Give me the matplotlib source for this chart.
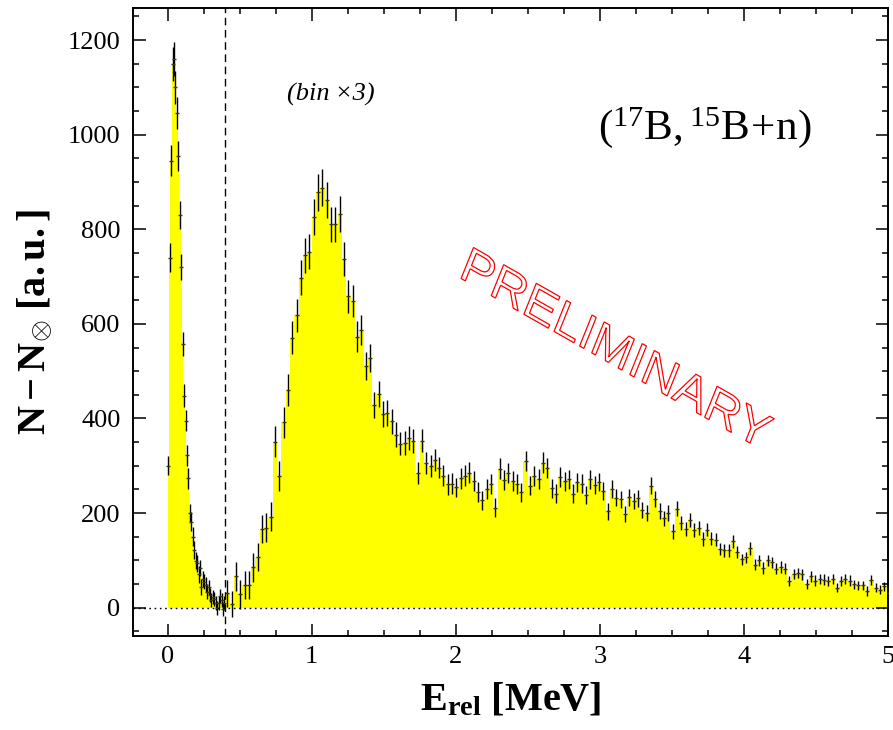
import numpy as np
import matplotlib
matplotlib.use('Agg')
import matplotlib.pyplot as plt
from matplotlib.textpath import TextPath
from matplotlib.patches import PathPatch
from matplotlib.font_manager import FontProperties
from matplotlib.transforms import Affine2D
from matplotlib.ticker import MultipleLocator

# ---------------- data ----------------
fine_vals = [300, 740, 945, 1150, 1160, 1100, 1045, 955, 830, 720,
             557, 448, 395, 322, 273, 200, 182, 150, 122, 99,
             94, 71, 83, 44, 60, 55, 48, 34, 43, 26,
             16, 23, 18, 9, -1, 10, 25, 16, -3, 10]
fine_errs = [20, 30, 33, 36, 36, 35, 34, 32, 30, 28,
             26, 24, 22, 22, 22, 20, 20, 20, 19, 18,
             18, 18, 17, 17, 17, 16, 16, 16, 16, 15,
             15, 15, 15, 15, 15, 15, 15, 15, 15, 15]
coarse_vals = [30, 8, 66, 28, 48, 48, 85, 107, 166, 169, 192,
               351, 278, 392, 460, 571, 618, 698, 745, 753, 825,
               878, 888, 862, 811, 811, 833, 738, 658, 648, 573,
               587, 511, 528, 428, 452, 409, 412, 394, 366, 347,
               348, 359, 352, 284, 353, 306, 300, 312, 296, 279,
               261, 262, 254, 273, 279, 285, 267, 244, 227, 250,
               262, 211, 294, 269, 285, 267, 262, 244, 310, 258,
               279, 272, 306, 296, 252, 241, 276, 267, 271, 241,
               265, 262, 239, 271, 260, 266, 246, 204, 250, 232,
               229, 197, 233, 225, 231, 206, 200, 258, 229, 205,
               189, 200, 161, 209, 179, 167, 186, 164, 169, 145,
               165, 146, 144, 124, 121, 121, 140, 118, 102, 106,
               125, 91, 100, 84, 100, 96, 82, 86, 82, 56,
               71, 73, 70, 50, 66, 57, 61, 59, 56, 61,
               42, 56, 61, 57, 49, 47, 47, 35, 58, 42,
               38, 45, 31]
coarse_errs = [28, 28, 30, 30, 30, 30, 30, 30, 30, 30, 31,
               33, 32, 33, 34, 35, 35, 36, 37, 37, 38,
               39, 39, 38, 37, 37, 38, 36, 34, 34, 32,
               32, 30, 30, 28, 28, 27, 27, 26, 26, 25,
               25, 25, 25, 23, 25, 24, 23, 23, 23, 22,
               22, 22, 21, 22, 22, 22, 21, 21, 20, 21,
               21, 20, 22, 21, 21, 21, 21, 20, 22, 20,
               21, 21, 22, 21, 20, 20, 21, 20, 20, 20,
               20, 20, 19, 20, 19, 19, 19, 18, 19, 18,
               18, 17, 18, 17, 18, 17, 17, 18, 17, 17,
               16, 16, 15, 16, 15, 15, 15, 15, 15, 14,
               14, 14, 14, 13, 13, 13, 13, 13, 12, 12,
               13, 12, 12, 12, 12, 12, 12, 12, 12, 11,
               11, 11, 11, 11, 11, 11, 11, 11, 11, 11,
               10, 11, 11, 11, 10, 10, 10, 10, 11, 10,
               10, 10, 10]
fine_start = 0.0
fine_width = 0.01
split_energy = 0.40
coarse_width = 0.03

x_ticks = [0, 1, 2, 3, 4, 5]
y_ticks = [0, 200, 400, 600, 800, 1000, 1200]

# ---------------- style ----------------
plt.rcParams['font.family'] = ['Liberation Serif', 'DejaVu Serif']
plt.rcParams['mathtext.fontset'] = 'custom'
plt.rcParams['mathtext.rm'] = 'Liberation Serif'
plt.rcParams['mathtext.it'] = 'Liberation Serif:italic'
plt.rcParams['mathtext.bf'] = 'Liberation Serif:bold'

fine_edges = fine_start + fine_width * np.arange(len(fine_vals) + 1)
coarse_edges = split_energy + coarse_width * np.arange(len(coarse_vals) + 1)
edges = np.concatenate([fine_edges, coarse_edges[1:]])
vals = np.array(fine_vals + coarse_vals, dtype=float)
errs = np.array(fine_errs + coarse_errs, dtype=float)
centers = 0.5 * (edges[:-1] + edges[1:])

fig = plt.figure(figsize=(8.93, 7.30), dpi=100)
ax = fig.add_axes([0.1489, 0.1288, 0.8455, 0.8603])
ax.set_xlim(-0.24, 5.0)
ax.set_ylim(-60, 1268)

ax.stairs(vals, edges, fill=True, color='#ffff00', baseline=0, zorder=1)
ax.errorbar(centers, vals, yerr=errs, fmt='none', ecolor='black',
            elinewidth=1.0, capsize=0, zorder=3)
ax.plot(centers, vals, ls='none', marker='_', ms=3.5, mew=1.0,
        color='#3a3a10', zorder=4)
ax.axhline(0, color='black', lw=1.0, ls=(0, (1.2, 2.6)), zorder=5)
ax.axvline(split_energy, color='black', lw=1.0, ls=(0, (5.5, 3.3)), zorder=5)

ax.set_xticks(x_ticks)
ax.set_xticklabels([str(t) for t in x_ticks])
ax.set_yticks(y_ticks)
ax.set_yticklabels([str(t) for t in y_ticks])
ax.xaxis.set_minor_locator(MultipleLocator(0.25))
ax.yaxis.set_minor_locator(MultipleLocator(50))
ax.tick_params(which='both', direction='in', top=True, right=True,
               width=1.1, labelsize=19)
ax.tick_params(which='major', length=9)
ax.tick_params(which='minor', length=4.5)
ax.tick_params(axis='x', which='major', pad=7)
ax.tick_params(axis='y', which='major', pad=9)
for s in ax.spines.values():
    s.set_linewidth(1.4)

ax.set_xlabel(r'$\mathbf{E_{rel}\ [MeV]}$', fontsize=29)
ax.xaxis.set_label_coords(0.5, -0.073)
ax.set_ylabel(r'$\mathbf{N-N_{\otimes}\ [a.u.]}$', fontsize=29)
ax.yaxis.set_label_coords(-0.105, 0.5)

ax.text(1.13, 1086, '(bin\u2009\u00d73)', fontsize=19, style='italic',
        ha='center', va='center')
ax.text(3.73, 1016, r'$\mathrm{(^{17}B,^{15}B\!+\!n)}$', fontsize=31,
        ha='center', va='center')

# PRELIMINARY outlined stamp
fp = FontProperties(family='Liberation Sans')
tp = TextPath((0, 0), 'PRELIMINARY', size=1, prop=fp)
bx, by = 0.869, -0.495
ux, uy = 0.372, 0.928
sb, su = 52.0, 48.5
ox, oy = ax.transAxes.transform((0.4297, 0.5726))
M = Affine2D(np.array([[sb * bx, su * ux, ox],
                       [sb * by, su * uy, oy],
                       [0, 0, 1]]))
ax.add_patch(PathPatch(tp, facecolor='none', edgecolor='red', lw=0.9,
                       transform=M, zorder=6))

fig.savefig('out.png', dpi=100)
